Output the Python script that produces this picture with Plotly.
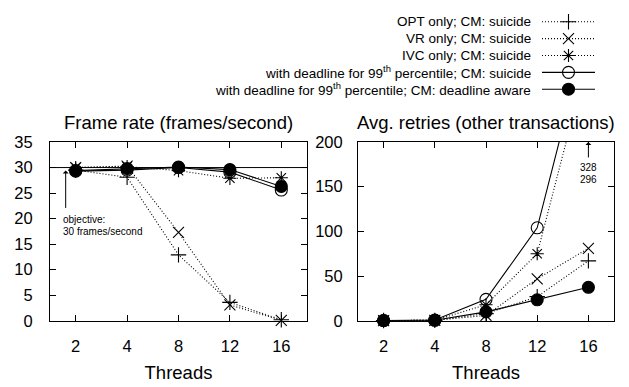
import plotly.graph_objects as go

# ---------------- data ----------------
threads = ["2", "4", "8", "12", "16"]

series_names = [
    "OPT only; CM: suicide",
    "VR only; CM: suicide",
    "IVC only; CM: suicide",
    "with deadline for 99<sup>th</sup> percentile; CM: suicide",
    "with deadline for 99<sup>th</sup> percentile; CM: deadline aware",
]

fps_opt = [29.5, 28.1, 12.9, 3.6, 0.2]
fps_vr = [30.0, 30.3, 17.3, 3.1, 0.1]
fps_ivc = [30.0, 30.2, 29.4, 27.9, 28.0]
fps_dl_suicide = [29.3, 29.5, 30.0, 29.1, 25.6]
fps_dl_aware = [29.4, 29.8, 30.1, 29.6, 26.3]

ret_opt = [0.3, 0.5, 8, 27, 67]
ret_vr = [0.3, 0.5, 6, 47, 81]
ret_ivc = [0.3, 0.5, 18, 75, 296]
ret_dl_suicide = [0.3, 0.8, 24, 104, 328]
ret_dl_aware = [0.3, 0.6, 10, 23.5, 37.5]

objective_fps = 30
fps_ticks = [0, 5, 10, 15, 20, 25, 30, 35]
ret_ticks = [0, 50, 100, 150, 200]

fps_series = [fps_opt, fps_vr, fps_ivc, fps_dl_suicide, fps_dl_aware]
ret_series = [ret_opt, ret_vr, ret_ivc, ret_dl_suicide, ret_dl_aware]

# ---------------- styles ----------------
symbols = ["cross-thin-open", "x-thin-open", "asterisk-open", "circle-open", "circle"]
sizes = [11, 11, 11, 12, 12]
DOT = "1px,2px"
dashes = [DOT, DOT, DOT, "solid", "solid"]
FONT = "Liberation Sans, Arial, sans-serif"

W, H = 629, 387
def px(xp):
    return xp / W
def py(yp):
    return 1 - yp / H

fig = go.Figure()

ret_max = 200

def add_series(xa, ya, values, i, clip_max=None):
    op = [1 if (clip_max is None or v <= clip_max) else 0 for v in values]
    fig.add_trace(go.Scatter(
        x=threads, y=values, xaxis=xa, yaxis=ya,
        mode="lines+markers", showlegend=False, cliponaxis=False,
        line=dict(color="black", width=1.1, dash=dashes[i]),
        marker=dict(symbol=symbols[i], size=sizes[i], color="black", opacity=op,
                    line=dict(color="black", width=1.1)),
    ))

for i, v in enumerate(fps_series):
    add_series("x", "y", v, i)
for i, v in enumerate(ret_series):
    add_series("x2", "y2", v, i, clip_max=ret_max)

# legend samples on an auxiliary axis
for i in range(len(series_names)):
    fig.add_trace(go.Scatter(
        x=[0, 0.5, 1], y=[i + 1] * 3, xaxis="x3", yaxis="y3",
        mode="lines+markers", showlegend=False, cliponaxis=False,
        line=dict(color="black", width=1.1, dash=dashes[i]),
        marker=dict(symbol=symbols[i], size=sizes[i], color="black", opacity=[0, 1, 0],
                    line=dict(color="black", width=1.1)),
    ))
    fig.add_annotation(
        xref="paper", yref="y3", x=px(533), y=i + 1, text=series_names[i],
        xanchor="right", yanchor="middle", showarrow=False,
        font=dict(family=FONT, size=13.5, color="black"),
    )

axis_common = dict(
    showline=True, linecolor="black", linewidth=1, mirror="allticks",
    ticks="inside", ticklen=6, tickwidth=1, tickcolor="black",
    showgrid=False, zeroline=False,
    tickfont=dict(family=FONT, size=16.5, color="black"),
)

y_top, y_bot = 139.5, 327
fig.update_layout(
    width=W, height=H, margin=dict(l=0, r=0, t=0, b=0),
    paper_bgcolor="white", plot_bgcolor="white",
    font=dict(family=FONT, color="black"),
    xaxis=dict(domain=[px(50), px(307)], type="category", range=[-0.5, 4.5],
               anchor="y", ticklabelstandoff=10,
               title=dict(text="Threads", font=dict(family=FONT, size=18.5), standoff=12),
               **axis_common),
    yaxis=dict(domain=[py(y_bot), py(y_top)], range=[0, 35], tickvals=fps_ticks,
               anchor="x", ticklabelstandoff=13, **axis_common),
    xaxis2=dict(domain=[px(358), px(614)], type="category", range=[-0.5, 4.5],
                anchor="y2", ticklabelstandoff=10,
                title=dict(text="Threads", font=dict(family=FONT, size=18.5), standoff=12),
                **axis_common),
    yaxis2=dict(domain=[py(y_bot), py(y_top)], range=[0, ret_max], tickvals=ret_ticks,
                anchor="x2", ticklabelstandoff=11, **axis_common),
    xaxis3=dict(domain=[px(542), px(595)], range=[0, 1], visible=False, anchor="y3"),
    yaxis3=dict(domain=[py(93), py(4.5)], range=[5.5, 0.5], visible=False, anchor="x3"),
)

# objective line
fig.add_shape(type="line", xref="x domain", yref="y", x0=0, x1=1,
              y0=objective_fps, y1=objective_fps, line=dict(color="black", width=1))

# subplot titles
fig.add_annotation(xref="paper", yref="paper", x=px(178.5), y=py(119),
                   text="Frame rate (frames/second)", showarrow=False,
                   xanchor="center", yanchor="middle",
                   font=dict(family=FONT, size=18.5, color="black"))
fig.add_annotation(xref="paper", yref="paper", x=px(486), y=py(119),
                   text="Avg. retries (other transactions)", showarrow=False,
                   xanchor="center", yanchor="middle",
                   font=dict(family=FONT, size=18.5, color="black"))

# objective arrow & text
fig.add_annotation(xref="x", yref="y", x=-0.195, y=29.4, ax=-0.195, ay=21.8,
                   axref="x", ayref="y", text="", showarrow=True,
                   arrowhead=1, arrowsize=1, arrowwidth=1, arrowcolor="black")
for txt, yv in [("objective:", 19.9), ("30 frames/second", 17.4)]:
    fig.add_annotation(xref="x", yref="y", x=-0.26, y=yv,
                       text=txt, showarrow=False, borderpad=0,
                       xanchor="left", yanchor="middle", align="left",
                       font=dict(family=FONT, size=10, color="black"))

# off-scale values arrow & text
off_vals = [v[-1] for v in ret_series if v[-1] > ret_max]
off_vals = sorted(off_vals, reverse=True)
fig.add_annotation(xref="x2", yref="y2", x=4, y=ret_max, ax=4, ay=181,
                   axref="x2", ayref="y2", text="", showarrow=True,
                   arrowhead=1, arrowsize=1, arrowwidth=1, arrowcolor="black")
for k, v in enumerate(off_vals):
    fig.add_annotation(xref="x2", yref="y2", x=4, y=172 - 13.5 * k,
                       text=str(v), showarrow=False, borderpad=0,
                       xanchor="center", yanchor="middle",
                       font=dict(family=FONT, size=10, color="black"))

fig.write_html("out.html")
